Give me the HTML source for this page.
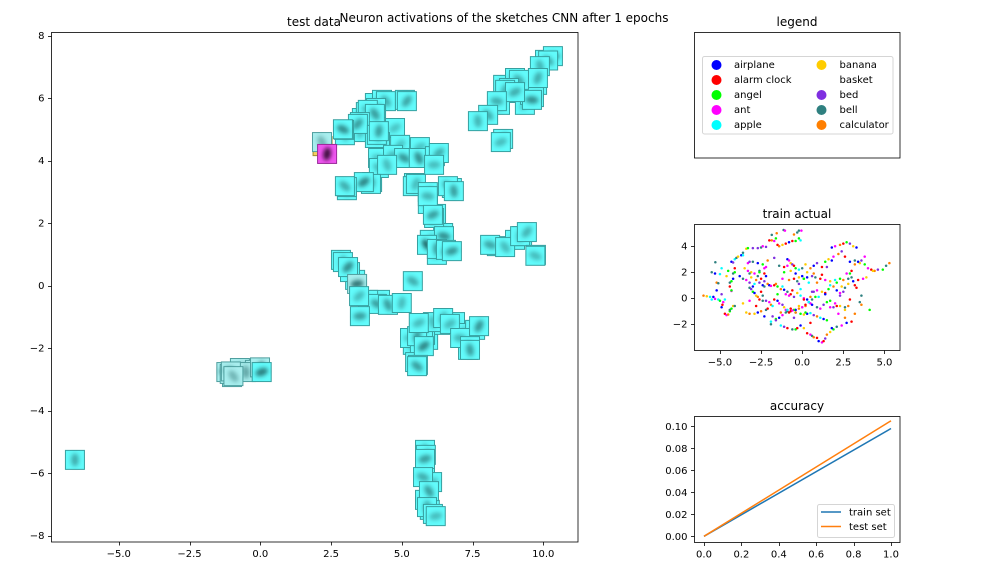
<!DOCTYPE html>
<html>
<head>
<meta charset="utf-8">
<style>
html,body{margin:0;padding:0;background:#fff;width:1008px;height:576px;overflow:hidden}
svg{display:block}
text{font-family:"DejaVu Sans","Liberation Sans",sans-serif;font-size:10px;fill:#000}
.t{font-size:12px}
</style>
</head>
<body>
<svg id="fig" width="1008" height="576" viewBox="0 0 1008 576" xmlns="http://www.w3.org/2000/svg">
<defs>
<filter id="b" x="-60%" y="-60%" width="220%" height="220%"><feGaussianBlur stdDeviation="2.1"/></filter>
<clipPath id="mainClip"><rect x="51.5" y="32.5" width="526.5" height="509.5"/></clipPath>
</defs>
<text class="t" x="504" y="22" text-anchor="middle">Neuron activations of the sketches CNN after 1 epochs</text>
<text class="t" x="314" y="26" text-anchor="middle">test data</text>
<text class="t" x="797" y="26" text-anchor="middle">legend</text>
<text class="t" x="797" y="218" text-anchor="middle">train actual</text>
<text class="t" x="797" y="410" text-anchor="middle">accuracy</text>
<g id="main"></g>
<g id="leg"></g>
<g id="train"></g>
<g id="acc"></g>
</svg>
<script>
const classNames = ['airplane','alarm clock','angel','ant','apple','banana','basket','bed','bell','calculator'];
const classColors = ['#0000ff','#ff0000','#00ff00','#ff00ff','#00ffff','#ffcc00','#ffffff','#7f2fe0','#2f8080','#ff7f00'];

const mainXTicks = [-5,-2.5,0,2.5,5,7.5,10];
const mainYTicks = [-8,-6,-4,-2,0,2,4,6,8];
const trainXTicks = [-5,-2.5,0,2.5,5];
const trainYTicks = [-2,0,2,4];
const accXTicks = [0,0.2,0.4,0.6,0.8,1];
const accYTicks = [0,0.02,0.04,0.06,0.08,0.1];

const accEpochs = [0,1];
const accTrain = [0,0.098];
const accTest = [0,0.105];

const underTileX = [4.05,3.59,3.73,3.55,4.76,4.23,4.05,2.99,4.94,5.64,4.16,3.95,3.06,5.43,6.77,5.92,6.21,6.46,5.99,6.24,8.79,8.58,8.47,9.35,9.53,9,9.78,10.06,4.23,3.81,3.35,3.17,5.93,5.39,5.29,6.35,6.88,7.16,7.59,7.34,5.64,5.82,5.47,8.36,9,9.25,5.82,5.82,6.07,5.82,5.99,-1,-0.72,-0.19];
const underTileY = [5.84,5.36,5.55,4.91,5.04,4.59,4.72,4.81,4.08,4.43,4.08,3.31,3.05,3.28,3.12,2.61,2.29,1.68,1.46,0.98,6.16,6.42,5.78,5.78,6.1,6.64,6.42,7.22,-0.46,-0.46,0.18,0.43,-1.74,-1.9,-1.68,-1.26,-1.17,-1.52,-1.42,-2.06,-1.9,-1.58,-2.45,1.26,1.46,1.58,-5.26,-5.97,-6.29,-6.86,-7.18,-2.93,-2.64,-2.7];

const tileX = [10.34,10.17,9.88,9.81,9.67,9.6,9.14,8.79,8.65,9.0,8.36,8.05,7.69,8.58,8.5,
 4.3,4.44,5.11,5.18,4.09,3.8,4.05,3.52,3.45,2.96,2.92,4.12,4.19,4.94,4.69,5.08,5.6,6.17,6.31,6.14,4.19,4.48,3.91,3.66,3.06,2.99,5.39,5.5,5.92,5.92,6.63,6.84,6.14,6.1,6.49,5.89,6.24,6.56,6.77,8.12,8.65,9.18,9.42,9.74,9.72,
 2.85,2.92,3.1,3.42,4.12,4.51,5.0,3.49,3.52,5.39,
 5.75,5.54,5.78,5.57,5.54,6.1,6.46,6.7,7.06,7.41,7.41,7.73,5.6,
 -1.2,-1.08,-0.51,-0.01,0.05,-1.04,-0.95,
 -6.55,5.85,5.82,5.75,5.96,5.89,6.1,6.2,
 2.2,2.18,2.36];
const tileY = [7.34,7.2,7.02,6.64,6.03,5.94,6.58,6.32,6.26,6.19,5.9,5.46,5.26,4.69,4.59,
 5.94,5.9,5.94,5.9,5.68,5.62,5.49,5.23,5.17,4.98,5.0,4.82,4.94,4.5,4.18,4.08,4.08,4.14,4.24,3.86,3.76,3.86,3.25,3.31,3.15,3.18,3.18,3.25,2.99,2.86,3.18,3.02,2.16,2.26,1.58,1.3,1.17,1.14,1.1,1.3,1.23,1.58,1.71,0.98,0.95,
 0.82,0.75,0.59,0.05,-0.59,-0.62,-0.56,-0.34,-0.98,0.14,
 -1.33,-1.62,-1.94,-2.54,-2.58,-1.17,-1.04,-1.23,-1.68,-1.94,-2.06,-1.3,-1.2,
 -2.77,-2.83,-2.77,-2.62,-2.77,-2.75,-2.9,
 -5.58,-5.42,-5.55,-6.13,-6.58,-7.09,-7.31,-7.38,
 4.46,4.59,4.21];
const tileCat = [4,4,4,4,4,4,4,4,4,4,4,4,4,4,4,
 4,4,4,4,4,4,4,4,4,4,4,4,4,4,4,4,4,4,4,4,4,4,4,4,4,4,4,4,4,4,4,4,4,4,4,4,4,4,4,4,4,4,4,4,4,
 4,4,4,4,4,4,4,4,4,4,
 4,4,4,4,4,4,4,4,4,4,4,4,4,
 4,4,4,4,4,4,4,
 4,4,4,4,4,4,4,4,
 5,4,3];
const tileInk = [.7,.5,.45,.5,.55,.7,.5,.45,.45,.5,.5,.5,.45,.6,.4,
 .4,.5,.4,.55,.45,.4,.6,.8,.6,.9,.7,.55,.6,.35,.4,.65,.7,.45,.5,.4,.4,.4,.55,.75,.7,.5,.45,.4,.5,.45,.55,.6,.6,.6,.7,.95,.6,.5,.65,.55,.4,.4,.45,.6,.4,
 .5,.45,.7,.85,.6,.6,.4,.4,.6,.5,
 .5,.6,.75,.8,.6,.4,.45,.4,.45,.5,.6,.65,.4,
 .9,.9,.5,.8,.8,1,.4,
 .5,.55,.6,.5,.6,.5,.45,.4,
 .4,.4,1];
const tileFaded = [0,0,0,0,0,0,0,0,0,0,0,0,0,0,0,
 0,0,0,0,0,0,0,0,0,0,0,0,0,0,0,0,0,0,0,0,0,0,0,0,0,0,0,0,0,0,0,0,0,0,0,0,0,0,0,0,0,0,0,0,0,
 0,0,0,1,0,0,0,0,0,0,
 0,0,0,0,0,0,0,0,0,0,0,0,0,
 1,1,1,1,0,1,1,
 0,0,0,0,0,0,0,0,
 0,1,0];

const trainX = [-6,-5.8,-5.6,-5.5,-5.3,-5.1,-5,-4.9,-5.4,-5.2,-5.2,-5.1,-5.5,-5.3,-5,-4.6,-4.9,-5.28,-4.8,-4.9,-4.85,-4.7,-4.7,-4.6,-4.5,-4.4,-4.4,-4.3,-4.2,-4.1,-4.3,-4.3,-4.4,-4.4,-4.3,-4.2,-4.2,-4.1,-4.1,-4.3,-4.2,-4.1,-4,-3.9,-3.7,-3.6,-3.6,-3.4,-3.3,-3,-2.7,-2.5,-2.4,-2.2,-2,-1.85,-1.7,-1.6,-1.5,-1.4,-1.2,-1,-0.8,-0.6,-0.4,-0.5,-0.3,-0.2,-0.1,-0.2,-0.05,-1.85,-1.55,-1.13,-1.05,
 -3.6,-3.4,-3.2,-3,-3.1,-2.9,-2.7,-2.5,-2.3,-2.1,-2,-1.9,-1.7,-1.5,-1.3,-1.1,-0.9,-0.7,-0.5,-0.3,-0.1,0.1,0.3,0.5,0.6,-0.9,-0.8,-0.7,-0.6,-0.5,-0.4,-0.2,0,
 -3.2,-3.1,-3,-2.9,-2.8,-2.7,-2.6,-2.4,-2.2,-2,-1.9,-1.8,-3.4,-3.2,-2.9,-2.7,-2.5,-2.2,-2.1,-1.8,-1.6,-1.3,-1,-0.9,-0.7,-0.4,-0.2,0,0.2,0.5,
 -3.3,-3.2,-3,-2.7,-2.4,-2.3,-2.6,-2.6,-2.3,-2.2,-3.2,-3.1,-2.8,-2.6,-2.4,-2.3,-1.7,-1.5,-1.4,-1.2,-1.1,-0.9,-0.7,-0.5,-0.4,-0.2,0,0.2,0.4,0.6,0.8,
 -1.9,-1.6,-1.4,-1.2,-1,-0.8,-0.6,-0.4,-0.1,0.1,0.3,0.5,0.7,0.9,1.1,1.3,1.5,1.7,1.9,2.1,2.3,2.6,2.8,
 -1.3,-1.1,-0.9,-0.6,-0.4,-0.3,-0.1,0.1,0.3,0.5,0.6,0.7,0.9,1,1.2,1.3,1.4,1.5,1.7,1.9,2.1,2.4,2.7,3,
 -1.2,-0.8,-0.5,-0.2,0.1,0.3,0.6,0.8,1.1,1.4,1.7,2,2.3,2.5,2.8,3.1,3.4,3.7,3.9,
 0.5,0.7,0.9,1.2,1.4,1.6,1.9,2.2,2.4,2.6,2.9,3.2,3.5,3.8,4,4.2,4.4,4.6,4.9,5.1,5.3,
 0.7,0.9,1.2,1.4,1.6,1.7,1.9,2.1,2.3,2.5,2.6,2.8,2.9,3,3.2,3.4,3.6,3.8,
 1.8,2,2.3,2.5,2.7,2.9,3.1,3.3,0.1,0.4,0.6,0.9,1.1,1.3,1.5,
 -1.1,-0.9,-0.7,-0.4,-0.2,0.1,0.4,0.7,-1,-0.6,-0.3,0,0.3,-1.5,-1.2,-0.8,0.9,1.2,1.5,1.8,2.1,2.4,2.7,3,3.3,3.6,1,1.4,1.7,2,2.3,2.6,2.9,3.2,3.5,
 -4.5,-3.8,-3.5,-3.3,-2.9,-2.5,-2.1,-1.7,-1.4,-1.1,-3.6,-3.2,-2.8,-2.3,-1.9,-2.4,-2.2,-1.6,-0.5,0.2,0.5,0.2,-0.1,1.8,2.2,2.6,3.2,3.6,4.1,4.3];
const trainY = [0.2,0.15,0.1,-0.1,-0.05,-0.1,-0.2,0.3,0.1,0.6,1.2,1.15,2,1.9,1.85,1.7,2.3,2.77,-0.3,-0.7,-0.5,-0.1,-1.2,-1.3,-1.25,-1,-0.9,-0.8,-0.6,-0.6,0.55,0.6,1.2,0.9,1.3,1.5,1.9,2,2.3,2.8,2.75,3,3.1,3.2,3.3,3.3,3.5,3.8,3.85,3.85,3.85,3.9,4,3.95,4.45,4.45,4.4,4.6,4.1,4,4.1,4.2,4.3,4.4,4.4,4.9,5.05,4.6,4.45,5.2,5.2,4.87,5,5.25,5.2,
 1.5,1.4,1.2,0.9,2,1.9,1.7,1.5,1.3,1.1,1,0.95,1,0.9,0.7,0.65,0.5,0.3,0.1,0.4,0.2,0,-0.1,0.1,0.5,3,2.9,2.7,2.6,2.5,2.3,2.2,2.3,
 0.8,0.7,0.5,0.4,0.2,0.1,-0.1,-0.2,-0.2,-0.3,-0.5,-0.6,-1.1,-1.2,-1.2,-1.1,-1,-0.9,-0.8,-1.4,-1.6,-1.1,-0.9,-1,-0.8,-0.9,-0.6,-0.7,-0.6,-0.4,
 2.7,2.8,2.8,2.7,2.6,2.3,2.1,2,1.9,1.7,1.9,1.6,1.4,1.2,1,0.9,-0.1,-0.2,-0.4,-0.5,-0.7,-0.9,-1,-0.9,-1.1,-0.8,-0.7,-0.5,-0.3,-0.1,0.1,
 -2,-1.7,-1.5,-1.3,-1.1,-1.1,-0.95,-1.1,-1.2,-1.25,-1.2,-1.15,-1.3,-1.4,-1.5,-1.6,-1.7,-0.7,-0.7,-0.6,-0.6,-0.7,-0.6,
 -2.1,-2.2,-2.3,-2.4,-2.4,-2.3,-2.1,-2.3,-2.7,-2.8,-2.9,-3,-3.05,-3.3,-3.4,-3.3,-3.1,-2.8,-2.6,-2.4,-2.2,-2.1,-1.9,-1.8,
 1.5,1.4,1.5,1.6,1.5,1.6,1.7,1.6,1.5,1.4,1.3,1.4,1.5,1.4,1.5,1.3,1.4,1.5,1.6,
 2.3,2.5,2.7,2.4,2.8,3,3.2,3.4,3.6,3.2,2.8,2.9,2.7,2.6,2.3,2.2,2.1,2.2,2.2,2.5,2.7,
 0.5,0.6,0.5,0.4,0.7,1,0.9,0.6,0.4,0.5,0.8,1.1,1.9,2.1,2.6,2.8,2.9,3.2,
 3.9,4,4.1,4.2,4.3,4.2,4,3.9,-0.1,-0.3,-0.5,-0.7,-0.8,-0.5,-0.3,
 2.4,2.5,2.1,1.9,1.1,1.5,1.2,1.9,0.3,0.6,1.3,1.7,2,0.3,0.9,0.2,1.2,1.8,2.4,2.9,1.2,0.9,1.9,1.6,0.8,-0.5,0.1,0.3,-0.2,-0.4,0.2,-0.9,-0.1,-1.2,-0.3,
 2.1,1.7,2.3,2.1,1.1,0.5,2.9,3.1,2.5,2,-0.4,-0.2,-0.6,-1.4,-1.8,0.2,2.4,1.1,-1.5,-1.1,-1.9,2.6,0.7,-2.3,-1.2,-1.5,1,0.2,-0.9,2.1];
const trainCat = [9,5,4,4,3,4,2,7,0,0,9,8,8,0,4,5,4,8,3,0,1,4,1,3,9,2,8,2,5,8,3,2,8,1,2,0,8,2,1,0,7,4,8,5,0,4,8,5,2,7,7,8,3,7,1,9,3,2,1,9,5,1,0,1,2,9,8,2,4,8,3,8,9,8,3,
 8,3,7,0,5,3,8,1,7,9,0,3,1,2,9,0,8,1,7,5,4,3,0,9,7,0,3,5,7,1,2,4,8,
 8,7,2,0,5,9,1,8,7,3,9,4,5,9,5,0,9,8,1,7,2,9,3,8,1,0,5,4,9,3,
 3,7,8,0,2,3,8,2,1,0,8,5,9,7,0,8,1,0,3,7,5,4,1,2,8,9,3,1,0,8,2,
 8,7,0,3,8,1,3,9,2,5,0,4,7,9,4,0,2,3,7,1,5,8,9,
 4,7,1,8,2,1,0,5,1,3,8,9,1,0,3,1,7,9,5,2,8,3,0,1,
 3,9,1,5,2,0,7,8,1,3,5,4,2,9,8,0,1,3,5,
 9,0,7,1,2,5,3,9,7,1,0,8,5,2,3,1,9,7,2,8,9,
 7,3,5,1,2,4,9,0,3,7,8,5,2,1,9,0,7,3,
 0,3,9,1,2,7,5,0,1,4,0,8,3,7,2,
 1,3,5,0,7,2,4,9,3,1,8,0,5,2,4,3,9,1,7,0,2,5,3,8,1,9,4,0,2,3,7,5,1,9,8,
 2,0,5,3,4,1,9,7,8,2,5,3,1,0,4,8,3,9,7,2,1,5,4,0,3,9,1,8,2,5];

const NS = 'http://www.w3.org/2000/svg';
function el(parent, tag, attrs, txt){
  const e = document.createElementNS(NS, tag);
  for(const k in attrs) e.setAttribute(k, attrs[k]);
  if(txt !== undefined) e.textContent = txt;
  parent.appendChild(e);
  return e;
}
const fmtMinus = s => String(s).replace('-', '\u2212');

const mainXS = v => 260.3 + v * 28.3;
const mainYS = v => 285.5 - v * 31.25;
const trainXS = v => 802.2 + v * 16.45;
const trainYS = v => 298.2 - v * 13;
const accXS = v => 704 + v * 187;
const accYS = v => 536.3 - v * 1100;

function frame(g, x, y, w, h, name){
  const r = el(g, 'rect', {x:x, y:y, width:w, height:h, fill:'none', stroke:'#000', 'stroke-width':0.8});
  
  
}
function axes(g, box, xTicks, yTicks, xs, ys, xFmt, yFmt){
  xTicks.forEach(t => {
    const px = Math.round(xs(t)) + 0.5;
    const tick = el(g, 'line', {x1:px, x2:px, y1:box.b, y2:box.b + 3.5, stroke:'#000', 'stroke-width':0.8});
    
    
    const label = el(g, 'text', {x:xs(t), y:box.b + 15, 'text-anchor':'middle'}, fmtMinus(xFmt(t)));
    
    
  });
  yTicks.forEach(t => {
    const py = Math.round(ys(t)) + 0.5;
    const tick = el(g, 'line', {x1:box.l - 3.5, x2:box.l, y1:py, y2:py, stroke:'#000', 'stroke-width':0.8});
    
    
    const label = el(g, 'text', {x:box.l - 7, y:ys(t) + 3.5, 'text-anchor':'end'}, fmtMinus(yFmt(t)));
    
    
  });
}

/* main plot */
const mainG = document.getElementById('main');
const tilesG = el(mainG, 'g', {'clip-path':'url(#mainClip)'});


const tileFill = {3:'#f055f0', 4:'#62fbfb', 5:'#f5d060'};
const tileEdge = {3:'#9a2a9a', 4:'#37a0a0', 5:'#a08a30'};
function drawTile(vx, vy, cat, ink, faded, i){
  const cx = mainXS(vx), cy = mainYS(vy);
  const t = el(tilesG, 'g', {});
  
  
  el(t, 'rect', {x:cx - 9.5, y:cy - 9.5, width:19, height:19,
    fill: faded ? '#a8eeee' : tileFill[cat],
    stroke: faded ? '#4f9f9f' : tileEdge[cat], 'stroke-width':1});
  el(t, 'ellipse', {cx:cx, cy:cy, rx:6.5, ry:3.8,
    transform:'rotate(' + ((i * 37) % 180) + ' ' + cx + ' ' + cy + ')',
    fill: cat === 3 ? '#3a103a' : '#1c6060', opacity:ink, filter:'url(#b)'});
}
underTileX.forEach((v, i) => drawTile(v, underTileY[i], 4, 0.35, v < 0.5, i));
tileX.forEach((v, i) => drawTile(v, tileY[i], tileCat[i], tileInk[i], tileFaded[i] === 1, i));
frame(mainG, 51.5, 32.5, 526.5, 509.5, 'test-data-frame');
axes(mainG, {l:51.5, b:542}, mainXTicks, mainYTicks, mainXS, mainYS, t => t.toFixed(1), t => t.toFixed(0));

/* legend panel */
const legG = document.getElementById('leg');
frame(legG, 694.5, 32.5, 205.5, 125.5, 'legend-frame');
const legBox = el(legG, 'rect', {x:702.5, y:56.5, width:190.5, height:77.5, rx:2, fill:'#fff', stroke:'#d5d5d5', 'stroke-width':1});


classNames.forEach((name, i) => {
  const col = i < 5 ? 0 : 1, row = i % 5;
  const mx = col === 0 ? 716.5 : 821.5;
  const tx = col === 0 ? 734 : 839.5;
  const y = 65 + row * 15;
  const entry = el(legG, 'g', {});
  
  
  el(entry, 'circle', {cx:mx, cy:y, r:5, fill:classColors[i]});
  el(entry, 'text', {x:tx, y:y + 3}, name);
});

/* train actual */
const trainG = document.getElementById('train');
const ptsG = el(trainG, 'g', {});


trainX.forEach((v, i) => {
  const p = el(ptsG, 'circle', {cx:trainXS(v), cy:trainYS(trainY[i]), r:1.25, fill:classColors[trainCat[i]]});
  
  
});
frame(trainG, 694.5, 224.5, 205.5, 126, 'train-actual-frame');
axes(trainG, {l:694.5, b:350.5}, trainXTicks, trainYTicks, trainXS, trainYS, t => t.toFixed(1), t => t.toFixed(0));

/* accuracy */
const accG = document.getElementById('acc');
function series(vals, color, name){
  const d = accEpochs.map((e, i) => accXS(e) + ',' + accYS(vals[i])).join(' ');
  const l = el(accG, 'polyline', {points:d, fill:'none', stroke:color, 'stroke-width':1.5});
  
  
}
series(accTrain, '#1f77b4', 'train-set-line');
series(accTest, '#ff7f0e', 'test-set-line');
frame(accG, 694.5, 416.5, 205.5, 126, 'accuracy-frame');
axes(accG, {l:694.5, b:542.5}, accXTicks, accYTicks, accXS, accYS, t => t.toFixed(1), t => t.toFixed(2));
const accLeg = el(accG, 'g', {});


el(accLeg, 'rect', {x:817.5, y:504.5, width:77, height:33, rx:2, fill:'#fff', stroke:'#d5d5d5', 'stroke-width':1});
el(accLeg, 'line', {x1:821, x2:841, y1:512, y2:512, stroke:'#1f77b4', 'stroke-width':1.5});
el(accLeg, 'text', {x:849, y:515.5}, 'train set');
el(accLeg, 'line', {x1:821, x2:841, y1:526.5, y2:526.5, stroke:'#ff7f0e', 'stroke-width':1.5});
el(accLeg, 'text', {x:849, y:530}, 'test set');
</script>
</body>
</html>
